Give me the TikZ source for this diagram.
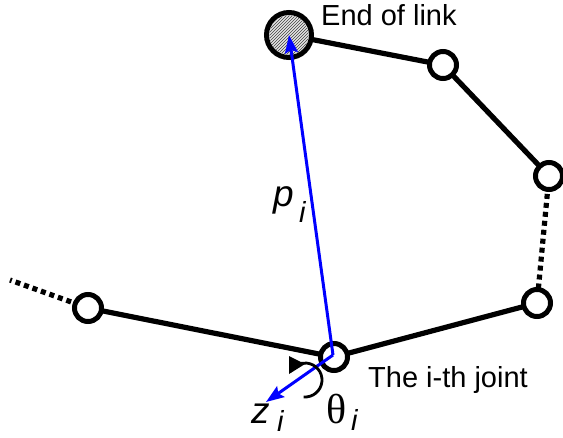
\documentclass[tikz,border=0pt]{standalone}
\usepackage{fontspec}
\setmainfont{Liberation Sans}
\newfontfamily\greekfont{Liberation Serif}
\usetikzlibrary{arrows.meta,patterns}
\begin{document}
\begin{tikzpicture}[x=1pt,y=-1pt,
  link/.style={line width=5.2pt},
  dotlink/.style={line width=5.2pt,dash pattern=on 5pt off 4pt},
  joint/.style={circle,draw,line width=5pt,fill=white,minimum size=27pt,inner sep=0pt},
  vec/.style={blue,line width=3pt,-{Stealth[length=18pt,width=13pt,inset=3pt]}},
  lbl/.style={inner sep=0pt,anchor=base west,font=\fontsize{29}{29}\selectfont}]
\useasboundingbox (0,0) rectangle (563,437);
% joints
\coordinate (e) at (289,35);
\coordinate (j1) at (443,65);
\coordinate (j2) at (549,176);
\coordinate (j3) at (537,303);
\coordinate (j0) at (334,357);
\coordinate (jl) at (88,308);
\coordinate (lend) at (10,280);
% links
\draw[link] (e) -- (j1) -- (j2);
\draw[dotlink] (j2) -- (j3);
\draw[link] (j3) -- (j0) -- (jl);
\draw[dotlink] (jl) -- (lend);
\node[joint] (n1) at (j1) {};
\node[joint] (n2) at (j2) {};
\node[joint] (n3) at (j3) {};
\node[joint] (n0) at (j0) {};
\node[joint] (nl) at (jl) {};
\node[circle,draw,line width=5pt,minimum size=45pt,inner sep=0pt,fill=gray!20] (ne) at (e) {};
\fill[pattern=north east lines,pattern color=black!75] (e) circle (19.5pt);
% vectors
\draw[vec] (333,355) -- (ne.center);
\coordinate (ztip) at (266,402);
\draw[vec] (333,355) -- (ztip);
% rotation arrow
\coordinate (rc) at (305,380);
\draw[line width=2.8pt] (rc) ++(-95:17pt) arc[start angle=-95,end angle=150,radius=17pt];
\fill (289,356) -- (305,364) -- (289,374) -- cycle;
% labels
\node[lbl] (t1) at (321,25) {End of link};
\node[lbl] (t2) at (368,387) {The i-th joint};
\node[inner sep=0pt,anchor=base west,font=\fontsize{37}{37}\selectfont\itshape] (p) at (273,206) {p};
\node[inner sep=0pt,anchor=base west,font=\fontsize{29}{29}\selectfont\itshape] (pi) at (299,222) {i};
\node[inner sep=0pt,anchor=base west,font=\fontsize{37}{37}\selectfont\itshape] (z) at (251,423) {z};
\node[inner sep=0pt,anchor=base west,font=\fontsize{29}{29}\selectfont\itshape] (zi) at (277,431) {i};
\node[inner sep=0pt,anchor=base west,font=\fontsize{42}{42}\selectfont\greekfont] (th) at (326,423) {θ};
\node[inner sep=0pt,anchor=base west,font=\fontsize{29}{29}\selectfont\itshape] (thi) at (351,430) {i};
\end{tikzpicture}
\end{document}
